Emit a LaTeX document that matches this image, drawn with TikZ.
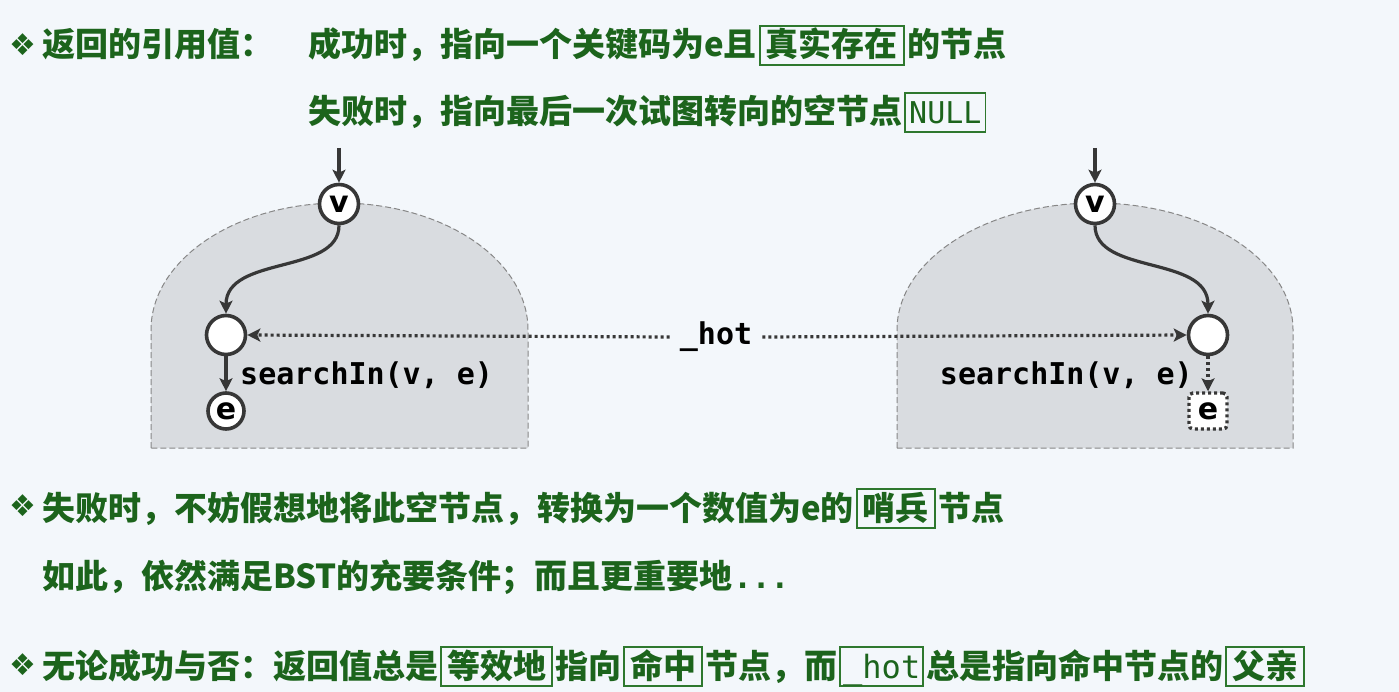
\documentclass[tikz,border=0pt]{standalone}
\usepackage{fontspec}
\usetikzlibrary{arrows.meta}
\newfontfamily\cjk{Noto Sans CJK SC}
\newfontfamily\monofont{DejaVu Sans Mono}
\newfontfamily\dejavu{DejaVu Sans}
\definecolor{bgc}{RGB}{243,247,251}
\definecolor{tg}{RGB}{28,100,28}
\definecolor{bg2}{RGB}{46,120,46}
\definecolor{dk}{RGB}{55,55,55}
\definecolor{domefill}{RGB}{217,220,224}
\definecolor{domeline}{RGB}{135,135,135}
\tikzset{
  txt/.style={text=tg, font=\cjk\bfseries\fontsize{33}{40}\selectfont, inner sep=0pt, anchor=base west},
  hl/.style={txt, draw=bg2, line width=1.6pt, inner xsep=6pt, inner ysep=3pt, text height=28pt, text depth=5pt},
  hlmono/.style={hl, font=\monofont\fontsize{32}{36}\selectfont},
  blt/.style={text=tg, font=\dejavu\fontsize{30}{30}\selectfont, inner sep=0pt},
  circ/.style={circle, draw=dk, line width=3.6pt, fill=white, minimum size=39pt, inner sep=0pt,
    font=\dejavu\bfseries\fontsize{30}{30}\selectfont, text=black},
  ebox/.style={rectangle, rounded corners=4pt, draw=dk, line width=3.4pt, dash pattern=on 3pt off 3pt,
    fill=white, minimum width=38pt, minimum height=36pt, inner sep=0pt,
    font=\dejavu\bfseries\fontsize{30}{30}\selectfont, text=black},
  arr/.style={draw=dk, line width=3.2pt, -{Stealth[length=13pt,width=13pt,inset=3pt]}},
  dotarr/.style={draw=dk, line width=3.2pt, dash pattern=on 3pt off 3pt, -{Stealth[length=13pt,width=13pt,inset=3pt]}},
  dome/.style={fill=domefill, draw=domeline, line width=1pt, dash pattern=on 6pt off 3pt},
  code/.style={font=\monofont\bfseries\fontsize{30}{36}\selectfont, text=black, inner sep=0pt}
}
\begin{document}
\begin{tikzpicture}[x=1pt,y=-1pt]
\fill[bgc] (0,0) rectangle (1399,692);
\useasboundingbox (0,0) rectangle (1399,692);

% line 1
\node[blt] (b1) at (23,45) {❖};
\node[txt] (l1a) at (42,57) {返回的引用值：};
\node[txt] (l1b) at (308,57) {成功时，指向一个关键码为e且};
\node[hl] (l1c) at ([xshift=2pt]l1b.base east) {真实存在};
\node[txt] (l1d) at ([xshift=3pt]l1c.base east) {的节点};
% line 2
\node[txt] (l2a) at (308,124) {失败时，指向最后一次试图转向的空节点};
\node[hlmono, inner xsep=4pt, font=\monofont\fontsize{30}{36}\selectfont] (l2b) at ([xshift=2pt]l2a.base east) {NULL};

% domes
\draw[dome] (151,448) -- (151,330) arc[start angle=180, end angle=360, x radius=188.5, y radius=127] -- (528,448) -- cycle;
\draw[dome] (897,448) -- (897,330) arc[start angle=180, end angle=360, x radius=198, y radius=127] -- (1293,448) -- cycle;

% left tree
\coordinate (tl) at (339,148);
\node[circ] (vl) at (339,204) {v};
\node[circ] (hl) at (226,335) {};
\node[circ, minimum size=36pt] (el) at (226,411) {e};
\draw[arr] (tl) -- (vl.north);
\draw[arr] (vl.south) .. controls (339,275) and (226,255) .. (hl.north);
\draw[arr] (hl.south) -- (el.north);
\node[code, anchor=west] (sl) at (240,375) {searchIn(v, e)};

% right tree
\coordinate (tr) at (1095,148);
\node[circ] (vr) at (1095,204) {v};
\node[circ] (hr) at (1208,335) {};
\node[ebox] (er) at (1208,411) {e};
\draw[arr] (tr) -- (vr.north);
\draw[arr] (vr.south) .. controls (1095,275) and (1208,255) .. (hr.north);
\draw[dotarr] (hr.south) -- (er.north);
\node[code, anchor=east] (sr) at (1193,375) {searchIn(v, e)};

% _hot
\node[code, inner xsep=10pt] (hot) at (716,337) {\_hot};
\draw[dotarr] (hot.west) -- (hl.east);
\draw[dotarr] (hot.east) -- (hr.west);

% line 3
\node[blt] (b3) at (23,506) {❖};
\node[txt] (l3a) at (42,520) {失败时，不妨假想地将此空节点，转换为一个数值为e的};
\node[hl] (l3b) at ([xshift=2pt]l3a.base east) {哨兵};
\node[txt] (l3c) at ([xshift=3pt]l3b.base east) {节点};
% line 4
\node[txt] (l4a) at (42,588) {如此，依然满足BST的充要条件；而且更重要地};
\node[txt, font=\monofont\bfseries\fontsize{31}{36}\selectfont] (l4b) at (l4a.base east) {...};

% line 5
\node[blt] (b5) at (23,665) {❖};
\node[txt] (l5a) at (42,678) {无论成功与否：返回值总是};
\node[hl] (l5b) at ([xshift=2pt]l5a.base east) {等效地};
\node[txt] (l5c) at ([xshift=2pt]l5b.base east) {指向};
\node[hl] (l5d) at ([xshift=2pt]l5c.base east) {命中};
\node[txt] (l5e) at ([xshift=2pt]l5d.base east) {节点，而};
\node[hlmono, inner xsep=3pt] (l5f) at ([xshift=2pt]l5e.base east) {\_hot};
\node[txt] (l5g) at ([xshift=2pt]l5f.base east) {总是指向命中节点的};
\node[hl] (l5h) at ([xshift=2pt]l5g.base east) {父亲};
\end{tikzpicture}
\end{document}
